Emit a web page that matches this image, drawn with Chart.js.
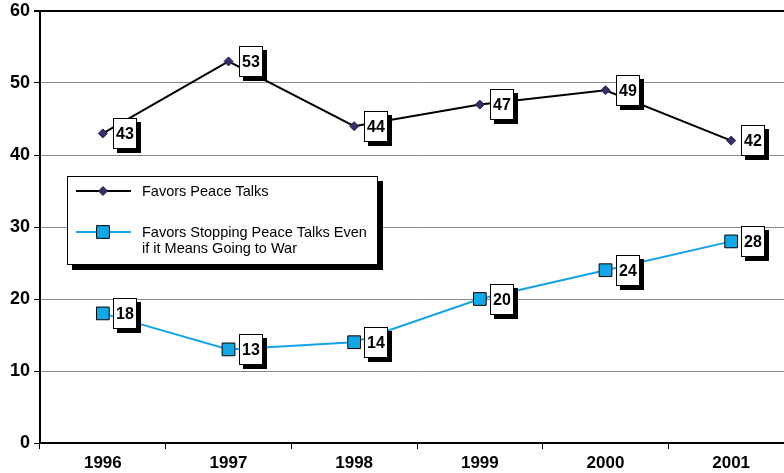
<!DOCTYPE html>
<html>
<head>
<meta charset="utf-8">
<script src="https://cdn.jsdelivr.net/npm/chart.js@4/dist/chart.umd.min.js"></script>
<style>
  html, body { margin:0; padding:0; background:#fff; }
  #clip { width:784px; height:473px; overflow:hidden; position:relative; }
  #wrap { position:absolute; left:0; top:0; width:804px; height:473px; }
</style>
</head>
<body>
<div id="clip"><div id="wrap"><canvas id="chart"></canvas></div></div>
<script>
// ===== Data =====
const years = ['1996', '1997', '1998', '1999', '2000', '2001'];
const peaceTalks = [43, 53, 44, 47, 49, 42];
const stopTalks = [18, 13, 14, 20, 24, 28];
const seriesNames = ['Favors Peace Talks', ['Favors Stopping Peace Talks Even', 'if it Means Going to War']];
const yMin = 0, yMax = 60, yStep = 10;

const FONT = '"Liberation Sans", Arial, Helvetica, sans-serif';

// ===== Boxed value labels + legend box =====
const boxLabels = {
  id: 'boxLabels',
  afterDatasetsDraw(chart) {
    const ctx = chart.ctx;
    ctx.save();
    ctx.font = 'bold 16px ' + FONT;
    ctx.textAlign = 'center';
    ctx.textBaseline = 'middle';
    chart.data.datasets.forEach((ds, i) => {
      chart.getDatasetMeta(i).data.forEach((pt, j) => {
        const w = 24, h = 31;
        const x = Math.round(pt.x + 10), y = Math.round(pt.y - h / 2);
        ctx.fillStyle = '#000';
        ctx.fillRect(x + 4, y + 4, w, h);
        ctx.fillStyle = '#fff';
        ctx.fillRect(x, y, w, h);
        ctx.strokeStyle = '#000';
        ctx.lineWidth = 1;
        ctx.strokeRect(x + 0.5, y + 0.5, w - 1, h - 1);
        ctx.fillStyle = '#000';
        ctx.fillText(String(ds.data[j]), x + w / 2, y + h / 2 + 1);
      });
    });

    // legend
    const lx = 67, ly = 176, lw = 311, lh = 89;
    ctx.fillStyle = '#000';
    ctx.fillRect(lx + 5, ly + 5, lw, lh);
    ctx.fillStyle = '#fff';
    ctx.fillRect(lx, ly, lw, lh);
    ctx.strokeStyle = '#000';
    ctx.lineWidth = 1;
    ctx.strokeRect(lx + 0.5, ly + 0.5, lw - 1, lh - 1);

    const rows = [191, 232];
    ctx.font = '14.5px ' + FONT;
    ctx.textAlign = 'left';
    chart.data.datasets.forEach((ds, i) => {
      const yy = rows[i];
      ctx.strokeStyle = ds.borderColor;
      ctx.lineWidth = 2;
      ctx.beginPath();
      ctx.moveTo(76, yy);
      ctx.lineTo(131, yy);
      ctx.stroke();
      ctx.fillStyle = ds.pointBackgroundColor;
      ctx.strokeStyle = ds.pointBorderColor;
      ctx.lineWidth = ds.pointBorderWidth;
      ctx.beginPath();
      if (ds.pointStyle === 'rect') {
        const s = Math.SQRT1_2 * ds.pointRadius;
        ctx.rect(103 - s, yy - s, 2 * s, 2 * s);
      } else {
        const r = ds.pointRadius;
        ctx.moveTo(103, yy - r); ctx.lineTo(103 + r, yy);
        ctx.lineTo(103, yy + r); ctx.lineTo(103 - r, yy); ctx.closePath();
      }
      ctx.fill();
      ctx.stroke();
      ctx.fillStyle = '#000';
      const name = seriesNames[i];
      const lines = Array.isArray(name) ? name : [name];
      lines.forEach((t, k) => ctx.fillText(t, 142, yy + 1 + k * 16));
    });
    ctx.restore();
  }
};

const whiteBg = {
  id: 'whiteBg',
  beforeDraw(chart) {
    const ctx = chart.ctx;
    ctx.save();
    ctx.fillStyle = '#fff';
    ctx.fillRect(0, 0, chart.width, chart.height);
    ctx.restore();
  }
};

new Chart(document.getElementById('chart'), {
  type: 'line',
  data: {
    labels: years,
    datasets: [
      {
        label: 'Favors Peace Talks',
        data: peaceTalks,
        borderColor: '#000',
        borderWidth: 2,
        pointStyle: 'rectRot',
        pointRadius: 4.5,
        pointBackgroundColor: '#3b2c66',
        pointBorderColor: '#2a1f4d',
        pointBorderWidth: 1,
        tension: 0
      },
      {
        label: 'Favors Stopping Peace Talks Even if it Means Going to War',
        data: stopTalks,
        borderColor: '#14a3e6',
        borderWidth: 2,
        pointStyle: 'rect',
        pointRadius: 9,
        pointBackgroundColor: '#12a8e6',
        pointBorderColor: '#000',
        pointBorderWidth: 1,
        tension: 0
      }
    ]
  },
  options: {
    responsive: true,
    maintainAspectRatio: false,
    animation: false,
    devicePixelRatio: 1,
    layout: { padding: { top: 11, left: 0, right: 0, bottom: 0 } },
    plugins: {
      legend: { display: false },
      tooltip: { enabled: false }
    },
    scales: {
      x: {
        offset: true,
        grid: { offset: true, drawOnChartArea: false, drawTicks: true, tickLength: 6, tickColor: '#000' },
        border: { color: '#000', width: 2 },
        ticks: { color: '#000', padding: 4, font: { family: FONT, size: 17, weight: 'bold' }, maxRotation: 0 },
        afterFit: s => { s.height = 30; }
      },
      y: {
        min: yMin,
        max: yMax,
        ticks: { stepSize: yStep, color: '#000', padding: 4, font: { family: FONT, size: 18, weight: 'bold', lineHeight: 0.75 } },
        grid: {
          color: c => (c.tick && c.tick.value === yMax) ? '#000' : '#8a8a8a',
          lineWidth: c => (c.tick && c.tick.value === yMax) ? 2 : 1,
          tickLength: 6,
          tickColor: '#000'
        },
        border: { color: '#000', width: 2 },
        afterFit: s => { s.width = 40; }
      }
    }
  },
  plugins: [whiteBg, boxLabels]
});
</script>
</body>
</html>
